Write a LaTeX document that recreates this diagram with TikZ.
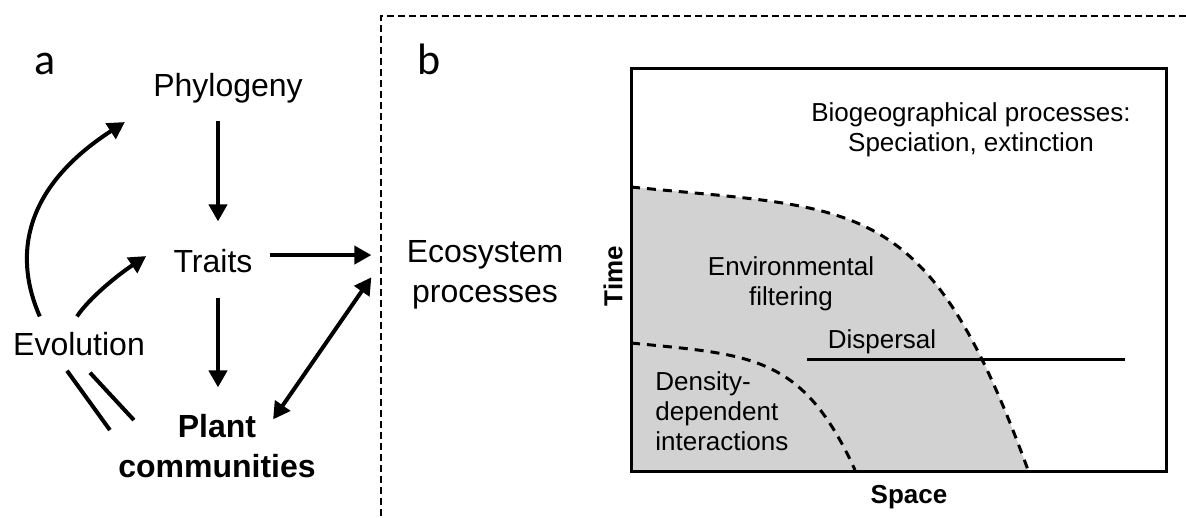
\documentclass[tikz,border=0pt]{standalone}
\usepackage{fontspec}
\setmainfont{Liberation Sans}
\newfontfamily\panelfont{Carlito}
\usetikzlibrary{arrows.meta}

\begin{document}
\begin{tikzpicture}[
  x=0.5pt, y=-0.5pt,
  every node/.style = {inner sep=0pt, align=center},
  big/.style = {font=\fontsize{16}{20}\selectfont},
  small/.style = {font=\fontsize{13}{15}\selectfont},
  axislbl/.style = {font=\bfseries\fontsize{13}{15}\selectfont},
  panel/.style = {font=\panelfont\fontsize{22}{24}\selectfont},
  arr/.style = {line width=2pt, -{Triangle[length=8.5pt,width=9pt]}},
  darr/.style = {line width=2pt, {Triangle[length=8.5pt,width=9pt]}-{Triangle[length=8.5pt,width=9pt]}},
  bound/.style = {line width=1.5pt, dash pattern=on 4.5pt off 3.5pt},
  frame/.style = {line width=1pt, dash pattern=on 3.5pt off 2pt}
    ]
  \useasboundingbox (0,0) rectangle (1186,518);

  % panel a
  \node[panel, anchor=base] (pa) at (45,75) {a};
  \node[big, anchor=base] (phy) at (228,97) {Phylogeny};
  \node[big, anchor=base] (tra) at (213,272) {Traits};
  \node[big, anchor=base] (evo) at (79,355) {Evolution};
  \node[big, anchor=base, font=\bfseries\fontsize{16}{20}\selectfont] (plant) at (217,477) {Plant\\communities};
  \node[big, anchor=base] (eco) at (485,302) {Ecosystem\\processes};
  \coordinate (col) at (218,0);

  \draw[arr, shorten <=8.5pt, shorten >=13.5pt] (phy.south -| col) -- (tra.north -| col);
  \draw[arr, shorten <=12.5pt, shorten >=13pt] (tra.south -| col) -- (plant.north -| col);
  \draw[arr, shorten <=8.5pt, shorten >=17.5pt] ([yshift=2.75pt]tra.east) -- ([yshift=2.75pt]tra.east -| eco.west);
  \draw[darr] ([shift={(-43,6)}]plant.north east) -- ([shift={(-35,3)}]eco.west);
  \draw[arr] ([shift={(27,-15)}]evo.north west) .. controls +(-25,-57) and +(-105,68) .. ([shift={(-28,18)}]phy.south west);
  \draw[arr] ([shift={(-2,-15)}]evo.north) .. controls +(12,-18) and +(-30,20) .. ([shift={(-27,-4.5)}]tra.west);
  \draw[line width=2pt] ([shift={(-12,15)}]evo.south) -- ([shift={(-8,-15.5)}]plant.west);
  \draw[line width=2pt] ([shift={(11,17)}]evo.south) -- ([shift={(16,-25.5)}]plant.west);

  % panel b
  \draw[frame] (1186,16) -- (381,16) -- (381,518);
  \node[panel, anchor=base] (pb) at (429,75) {b};
  \fill[gray!35] (631,187) .. controls (861,210) and (927,193) .. (1028,470) -- (631,470) -- cycle;
  \draw[bound] (631,187) .. controls (861,210) and (927,193) .. (1028,470);
  \draw[bound] (631,343) .. controls (751,355) and (802,354) .. (855,470);
  \draw[line width=1.5pt] (631,69) rectangle (1166,471);
  \draw[line width=1.5pt] (807,359) -- (1125,359);

  \node[small, anchor=base] (bio) at (971,152) {Biogeographical processes:\\Speciation, extinction};
  \node[small, anchor=base] (env) at (791,305) {Environmental\\filtering};
  \node[small, anchor=base] (dis) at (882,348) {Dispersal};
  \node[small, anchor=base west, align=left] (den) at (655,450) {Density-\\dependent\\interactions};
  \node[axislbl, rotate=90] (time) at (613,276) {Time};
  \node[axislbl, anchor=base] (space) at (909,503) {Space};
\end{tikzpicture}
\end{document}
